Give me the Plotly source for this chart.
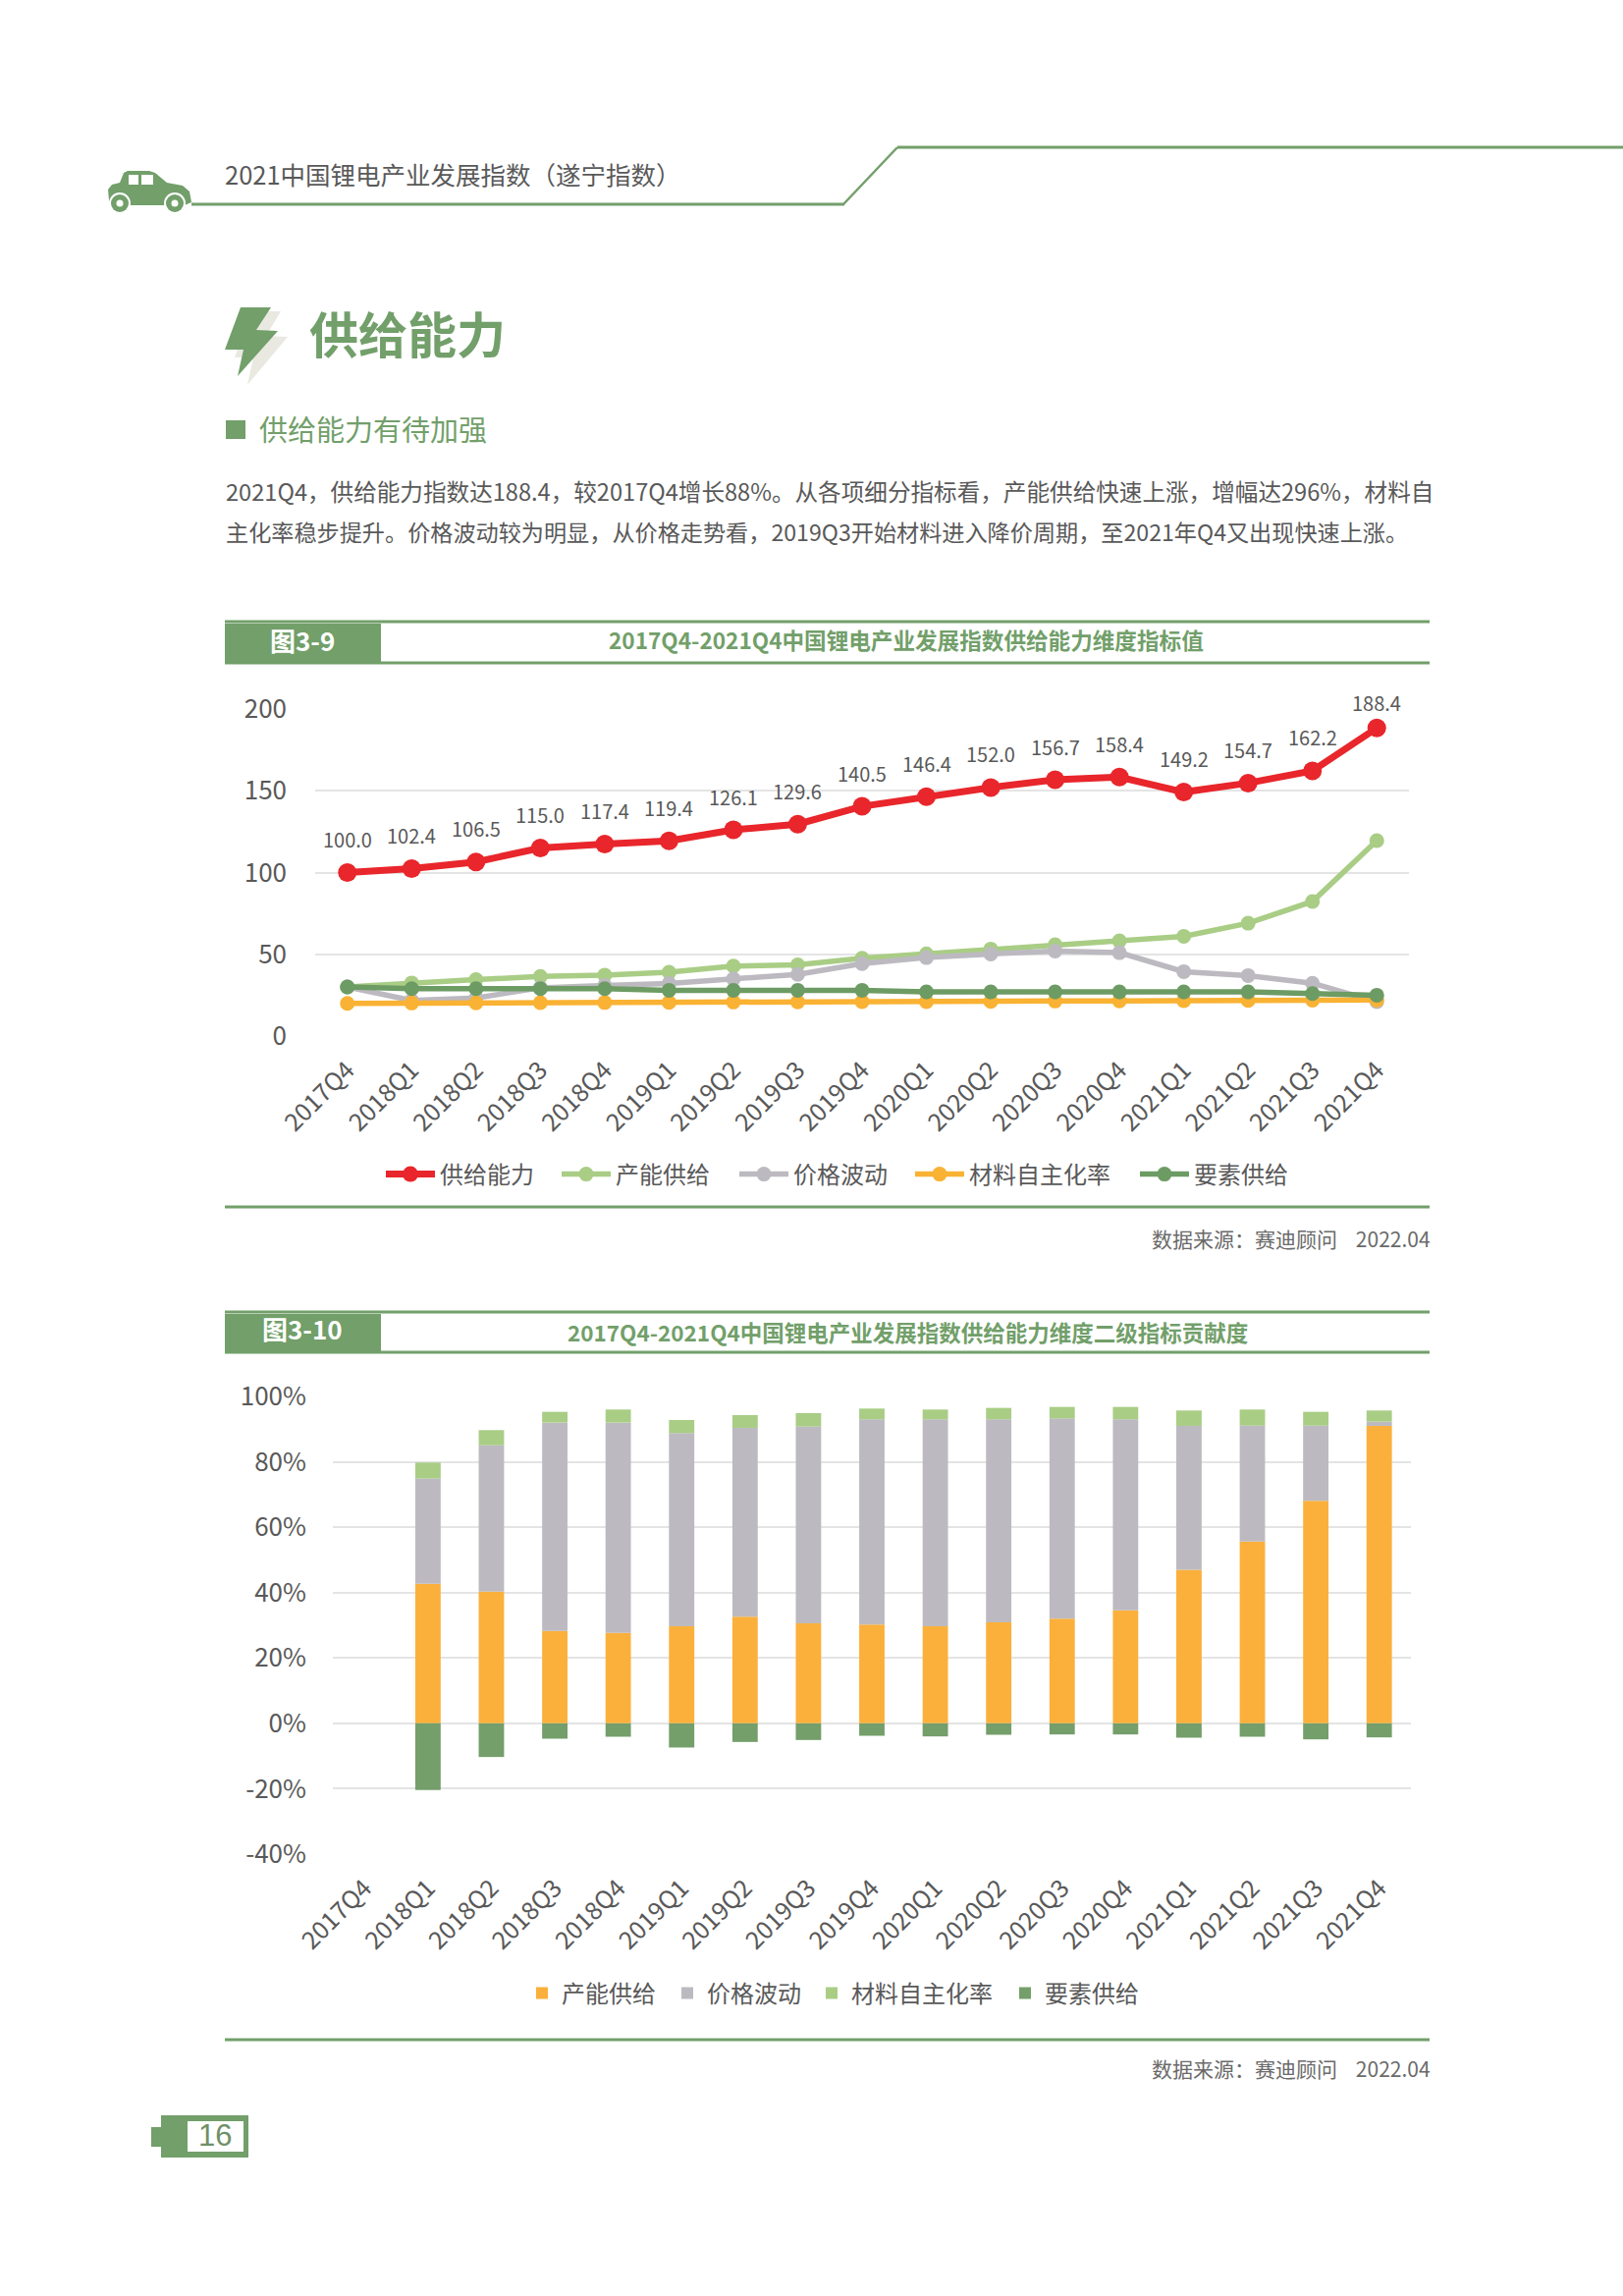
import plotly.graph_objects as go

W, H = 1653, 2338
FONT = "Noto Sans CJK SC"
GREEN = "#729f6a"
TEXT = "#595959"

quarters = ["2017Q4", "2018Q1", "2018Q2", "2018Q3", "2018Q4", "2019Q1", "2019Q2", "2019Q3", "2019Q4",
            "2020Q1", "2020Q2", "2020Q3", "2020Q4", "2021Q1", "2021Q2", "2021Q3", "2021Q4"]

supply = [100.0, 102.4, 106.5, 115.0, 117.4, 119.4, 126.1, 129.6, 140.5, 146.4, 152.0, 156.7, 158.4, 149.2, 154.7, 162.2, 188.4]
capacity = [30, 32.5, 34.5, 36.5, 37.3, 39, 42.8, 43.5, 47.6, 50.3, 53.2, 55.8, 58.2, 61, 69, 82.3, 119.5]
price = [30, 21.8, 23.3, 29.5, 31, 32.2, 35, 37.7, 44.3, 48, 50.2, 52, 51, 39.4, 37, 32.3, 21]
material = [20, 20.2, 20.3, 20.4, 20.5, 20.6, 20.8, 20.9, 21, 21, 21.2, 21.4, 21.5, 21.6, 21.8, 21.9, 22]
factor = [30, 29, 29, 29, 29, 28, 28, 28, 28, 27, 27, 27, 27, 27, 27, 26, 25]

share_capacity = [None, 42.7, 40.3, 28.3, 27.7, 29.7, 32.6, 30.6, 30.2, 29.7, 30.9, 32.0, 34.6, 47.0, 55.6, 68.1, 91.0]
share_price = [None, 32.2, 44.8, 63.7, 64.3, 59.1, 57.8, 60.2, 62.8, 63.3, 62.1, 61.3, 58.4, 44.0, 35.5, 23.0, 1.3]
share_material = [None, 4.9, 4.6, 3.3, 4.0, 4.0, 3.9, 4.1, 3.3, 3.0, 3.5, 3.5, 3.8, 4.7, 4.9, 4.2, 3.4]
share_factor = [None, -20.4, -10.3, -4.7, -4.1, -7.4, -5.7, -5.1, -3.8, -4.0, -3.5, -3.4, -3.4, -4.4, -4.1, -4.9, -4.3]

index_ticks = [0, 50, 100, 150, 200]
share_ticks = [-40, -20, 0, 20, 40, 60, 80, 100]
share_labels = ["-40%", "-20%", "0%", "20%", "40%", "60%", "80%", "100%"]


def px(x):
    return x / W


def py(y):
    return 1 - y / H


def path(points):
    return "M" + " L".join(f"{px(x):.5f},{py(y):.5f}" for x, y in points) + " Z"


def circle(cx, cy, r, color):
    return dict(type="circle", xref="paper", yref="paper", x0=px(cx - r), x1=px(cx + r), y0=py(cy + r), y1=py(cy - r),
                fillcolor=color, line_width=0, layer="above")


def rect(x0, y0, x1, y1, color):
    return dict(type="rect", xref="paper", yref="paper", x0=px(x0), x1=px(x1), y0=py(y1), y1=py(y0),
                fillcolor=color, line_width=0, layer="below")


def hline(x0, x1, y, width=3, color=GREEN):
    return dict(type="line", xref="paper", yref="paper", x0=px(x0), x1=px(x1), y0=py(y), y1=py(y),
                line=dict(color=color, width=width), layer="below")


def poly(points, color):
    return dict(type="path", xref="paper", yref="paper", path=path(points), fillcolor=color, line_width=0, layer="above")


def note(x, y, text, size, color=TEXT, anchor="left", bold=False, family=FONT):
    return dict(xref="paper", yref="paper", x=px(x), y=py(y - 2.5), text=f"<b>{text}</b>" if bold else text,
                showarrow=False, xanchor=anchor, yanchor="middle",
                font=dict(size=size, color=color, family=family), align=anchor)


fig = go.Figure()
legend_font = dict(size=24, color=TEXT, family=FONT)
legends = {}

series = [("供给能力", supply, "#e8262b", 7, 19, 388),
          ("产能供给", capacity, "#a9cd85", 5.5, 15, 567),
          ("价格波动", price, "#bcbac0", 5.5, 15, 748),
          ("材料自主化率", material, "#f9b233", 5.5, 15, 927),
          ("要素供给", factor, "#6d9b64", 5.5, 15, 1156)]
for i, (name, vals, color, lw, ms, lx) in enumerate(series):
    key = "legend" if i == 0 else f"legend{i + 1}"
    legends[key] = dict(x=px(lx), y=py(1196), xanchor="left", yanchor="middle", itemwidth=50,
                        font=legend_font, bgcolor="rgba(0,0,0,0)")
    fig.add_trace(go.Scatter(x=quarters, y=vals, name=name, mode="lines+markers",
                             line=dict(color=color, width=lw), marker=dict(color=color, size=ms),
                             legend=key, xaxis="x", yaxis="y"))

bars = [("产能供给", share_capacity, "#fbb03b", 532),
        ("价格波动", share_price, "#bcbac0", 680),
        ("材料自主化率", share_material, "#a9cd85", 827),
        ("要素供给", share_factor, "#749e6a", 1024)]
for i, (name, vals, color, lx) in enumerate(bars):
    key = f"legend{i + 6}"
    legends[key] = dict(x=px(lx), y=py(2030), xanchor="left", yanchor="middle", itemwidth=30,
                        font=legend_font, bgcolor="rgba(0,0,0,0)")
    fig.add_trace(go.Bar(x=quarters, y=vals, name=name, marker=dict(color=color, line_width=0),
                         legend=key, xaxis="x2", yaxis="y2"))

grid = dict(showgrid=True, gridcolor="#e4e4e4", gridwidth=2, zeroline=False, showline=False, ticks="",
            tickfont=dict(size=26, color=TEXT, family=FONT), ticklabelstandoff=28)
xcommon = dict(type="category", showgrid=False, zeroline=False, showline=False, ticks="", tickangle=-45,
               tickfont=dict(size=25, color=TEXT, family=FONT), ticklabelstandoff=14, range=[-0.5, 16.5],
               categoryorder="array", categoryarray=quarters)

annotations = [
    note(227, 179, "2021中国锂电产业发展指数（遂宁指数）", 25.5),
    note(313, 341, "供给能力", 50, GREEN, bold=True),
    note(262, 438, "供给能力有待加强", 29, GREEN),
    note(228, 502, "2021Q4，供给能力指数达188.4，较2017Q4增长88%。从各项细分指标看，产能供给快速上涨，增幅达296%，材料自", 23.6),
    note(228, 543, "主化率稳步提升。价格波动较为明显，从价格走势看，2019Q3开始材料进入降价周期，至2021年Q4又出现快速上涨。", 23.15),
    note(308, 654, "图3-9", 26, "white", "center", True),
    note(923, 654, "2017Q4-2021Q4中国锂电产业发展指数供给能力维度指标值", 22.6, GREEN, "center", True),
    note(1459, 1263, "数据来源：赛迪顾问    2022.04", 21, "#6a6a6a", "right"),
    note(308, 1355, "图3-10", 26, "white", "center", True),
    note(924, 1358, "2017Q4-2021Q4中国锂电产业发展指数供给能力维度二级指标贡献度", 22.5, GREEN, "center", True),
    note(1459, 2108, "数据来源：赛迪顾问    2022.04", 21, "#6a6a6a", "right"),
    note(219, 2177, "16", 31, "#6f8f68", "center", family="Liberation Sans"),
]
for i, (q, v) in enumerate(zip(quarters, supply)):
    annotations.append(dict(x=q, y=v, xref="x", yref="y", text=f"{v:.1f}", showarrow=False,
                            yshift=26 if i == len(supply) - 1 else 34, yanchor="middle",
                            font=dict(size=20, color=TEXT, family=FONT)))

car_body = [(111, 204), (110, 193), (114, 188), (122, 186), (126, 176), (130, 174), (152, 174), (158, 176), (170, 186),
            (186, 189), (193, 195), (195, 206), (188, 209), (112, 209)]

shapes = [
    hline(195, 860, 208),
    dict(type="line", xref="paper", yref="paper", x0=px(859), x1=px(914), y0=py(208), y1=py(150),
         line=dict(color=GREEN, width=2.5), layer="below"),
    hline(914, 1653, 150),
    poly(car_body, GREEN),
    rect(131, 178, 141, 188, "white") | dict(layer="above"),
    rect(144, 178, 156, 188, "white") | dict(layer="above"),
    circle(122, 207, 11, "white"), circle(122, 207, 9, GREEN), circle(122, 207, 3.5, "white"),
    circle(178, 207, 11, "white"), circle(178, 207, 9, GREEN), circle(178, 207, 3.5, "white"),
    poly([(255, 317), (286, 317), (271, 342), (293, 343), (252, 392), (258, 364), (239, 364)], "#e9e9e2"),
    poly([(245, 313), (276, 313), (261, 336), (283, 337), (242, 383), (248, 356), (229, 356)], GREEN),
    rect(230, 428, 250, 447, GREEN),
    rect(229, 635, 388, 675, GREEN),
    hline(229, 1456, 633), hline(229, 1456, 675), hline(229, 1456, 1229),
    rect(229, 1338, 388, 1377, GREEN),
    hline(229, 1456, 1336), hline(229, 1456, 1377), hline(229, 1456, 2077),
    rect(154, 2166, 166, 2186, GREEN),
    rect(164, 2154, 253, 2197, GREEN),
    rect(191, 2160, 248, 2191, "white"),
]

fig.update_layout(
    width=W, height=H, margin=dict(l=0, r=0, t=0, b=0, pad=0, autoexpand=False), autosize=False,
    paper_bgcolor="white", plot_bgcolor="white", font=dict(family=FONT, color=TEXT),
    barmode="relative", bargap=0.6, showlegend=True,
    xaxis=dict(xcommon, domain=[px(321), px(1435)], anchor="y"),
    yaxis=dict(grid, domain=[py(1055), py(722)], range=[0, 200], tickvals=index_ticks, anchor="x"),
    xaxis2=dict(xcommon, domain=[px(339), px(1437)], anchor="y2"),
    yaxis2=dict(grid, domain=[py(1888), py(1422)], range=[-40, 100], tickmode="array", tickvals=share_ticks,
                ticktext=share_labels, anchor="x2", ticklabelstandoff=26),
    annotations=annotations, shapes=shapes,
    **legends,
)

fig.write_html("out.html", config={"displayModeBar": False},
               post_script="document.body.style.margin='0';document.documentElement.style.overflow='hidden';")
